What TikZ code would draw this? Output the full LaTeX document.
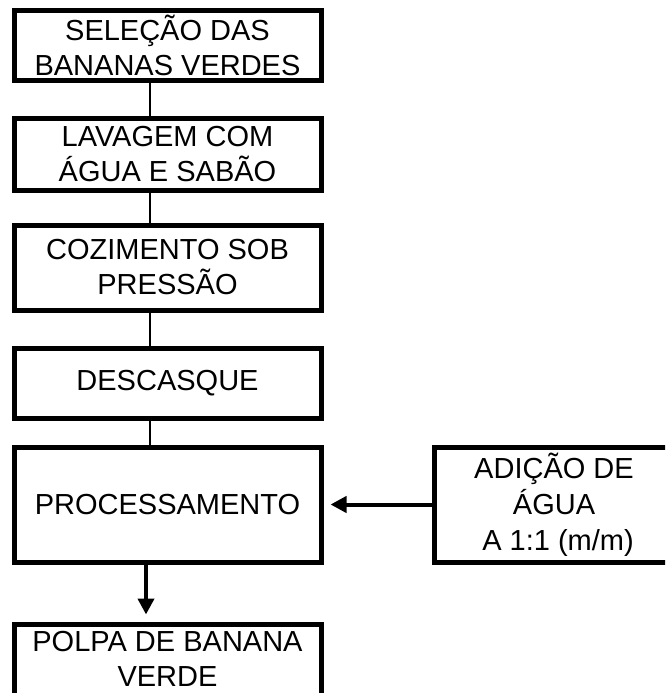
\documentclass[tikz,border=0pt]{standalone}
\usepackage{fontspec}
\setmainfont{Liberation Sans}
\usetikzlibrary{arrows.meta}

\begin{document}
\begin{tikzpicture}[x=1pt, y=-1pt,
  every node/.style={font=\fontsize{29}{35}\selectfont},
  box/.style={draw, line width=5pt, minimum width=307pt, inner sep=0pt, align=center},
  link/.style={line width=1.3pt},
  flow/.style={line width=4pt, shorten >=7pt, -{Triangle[length=16pt,width=16pt]}}]
  \clip (0,0) rectangle (665,693);
  % main column
  \node[box, minimum height=69pt] (selecao) at (167.5,45.5) {SELEÇÃO DAS\\BANANAS VERDES};
  \node[box, minimum height=72pt] (lavagem) at (167.5,154) {LAVAGEM COM\\ÁGUA E SABÃO};
  \node[box, minimum height=85pt] (cozimento) at (167.5,267.5) {COZIMENTO SOB\\PRESSÃO};
  \node[box, minimum height=70pt] (descasque) at (167.5,383) {DESCASQUE};
  \node[box, minimum height=115pt] (proc) at (167.5,504.5) {PROCESSAMENTO};
  \node[box, minimum height=74pt, text depth=4pt] (polpa) at (167.5,661) {POLPA DE BANANA\\VERDE};
  % side input
  \node[box, minimum width=240pt, minimum height=115pt, font=\fontsize{29}{36}\selectfont] (adicao) at (554,504.5)
    {ADIÇÃO DE\\ÁGUA\\\mbox{}\ A 1:1 (m/m)};
  % connectors
  \coordinate (spine) at (150,0);
  \coordinate (outlet) at (146,0);
  \foreach \a/\b in {selecao/lavagem, lavagem/cozimento, cozimento/descasque, descasque/proc}
    \draw[link] (\a.south -| spine) -- (\b.north -| spine);
  \draw[flow] (adicao.west) -- (proc.east |- adicao.west);
  \draw[flow] (proc.south -| outlet) -- (polpa.north -| outlet);
\end{tikzpicture}
\end{document}
